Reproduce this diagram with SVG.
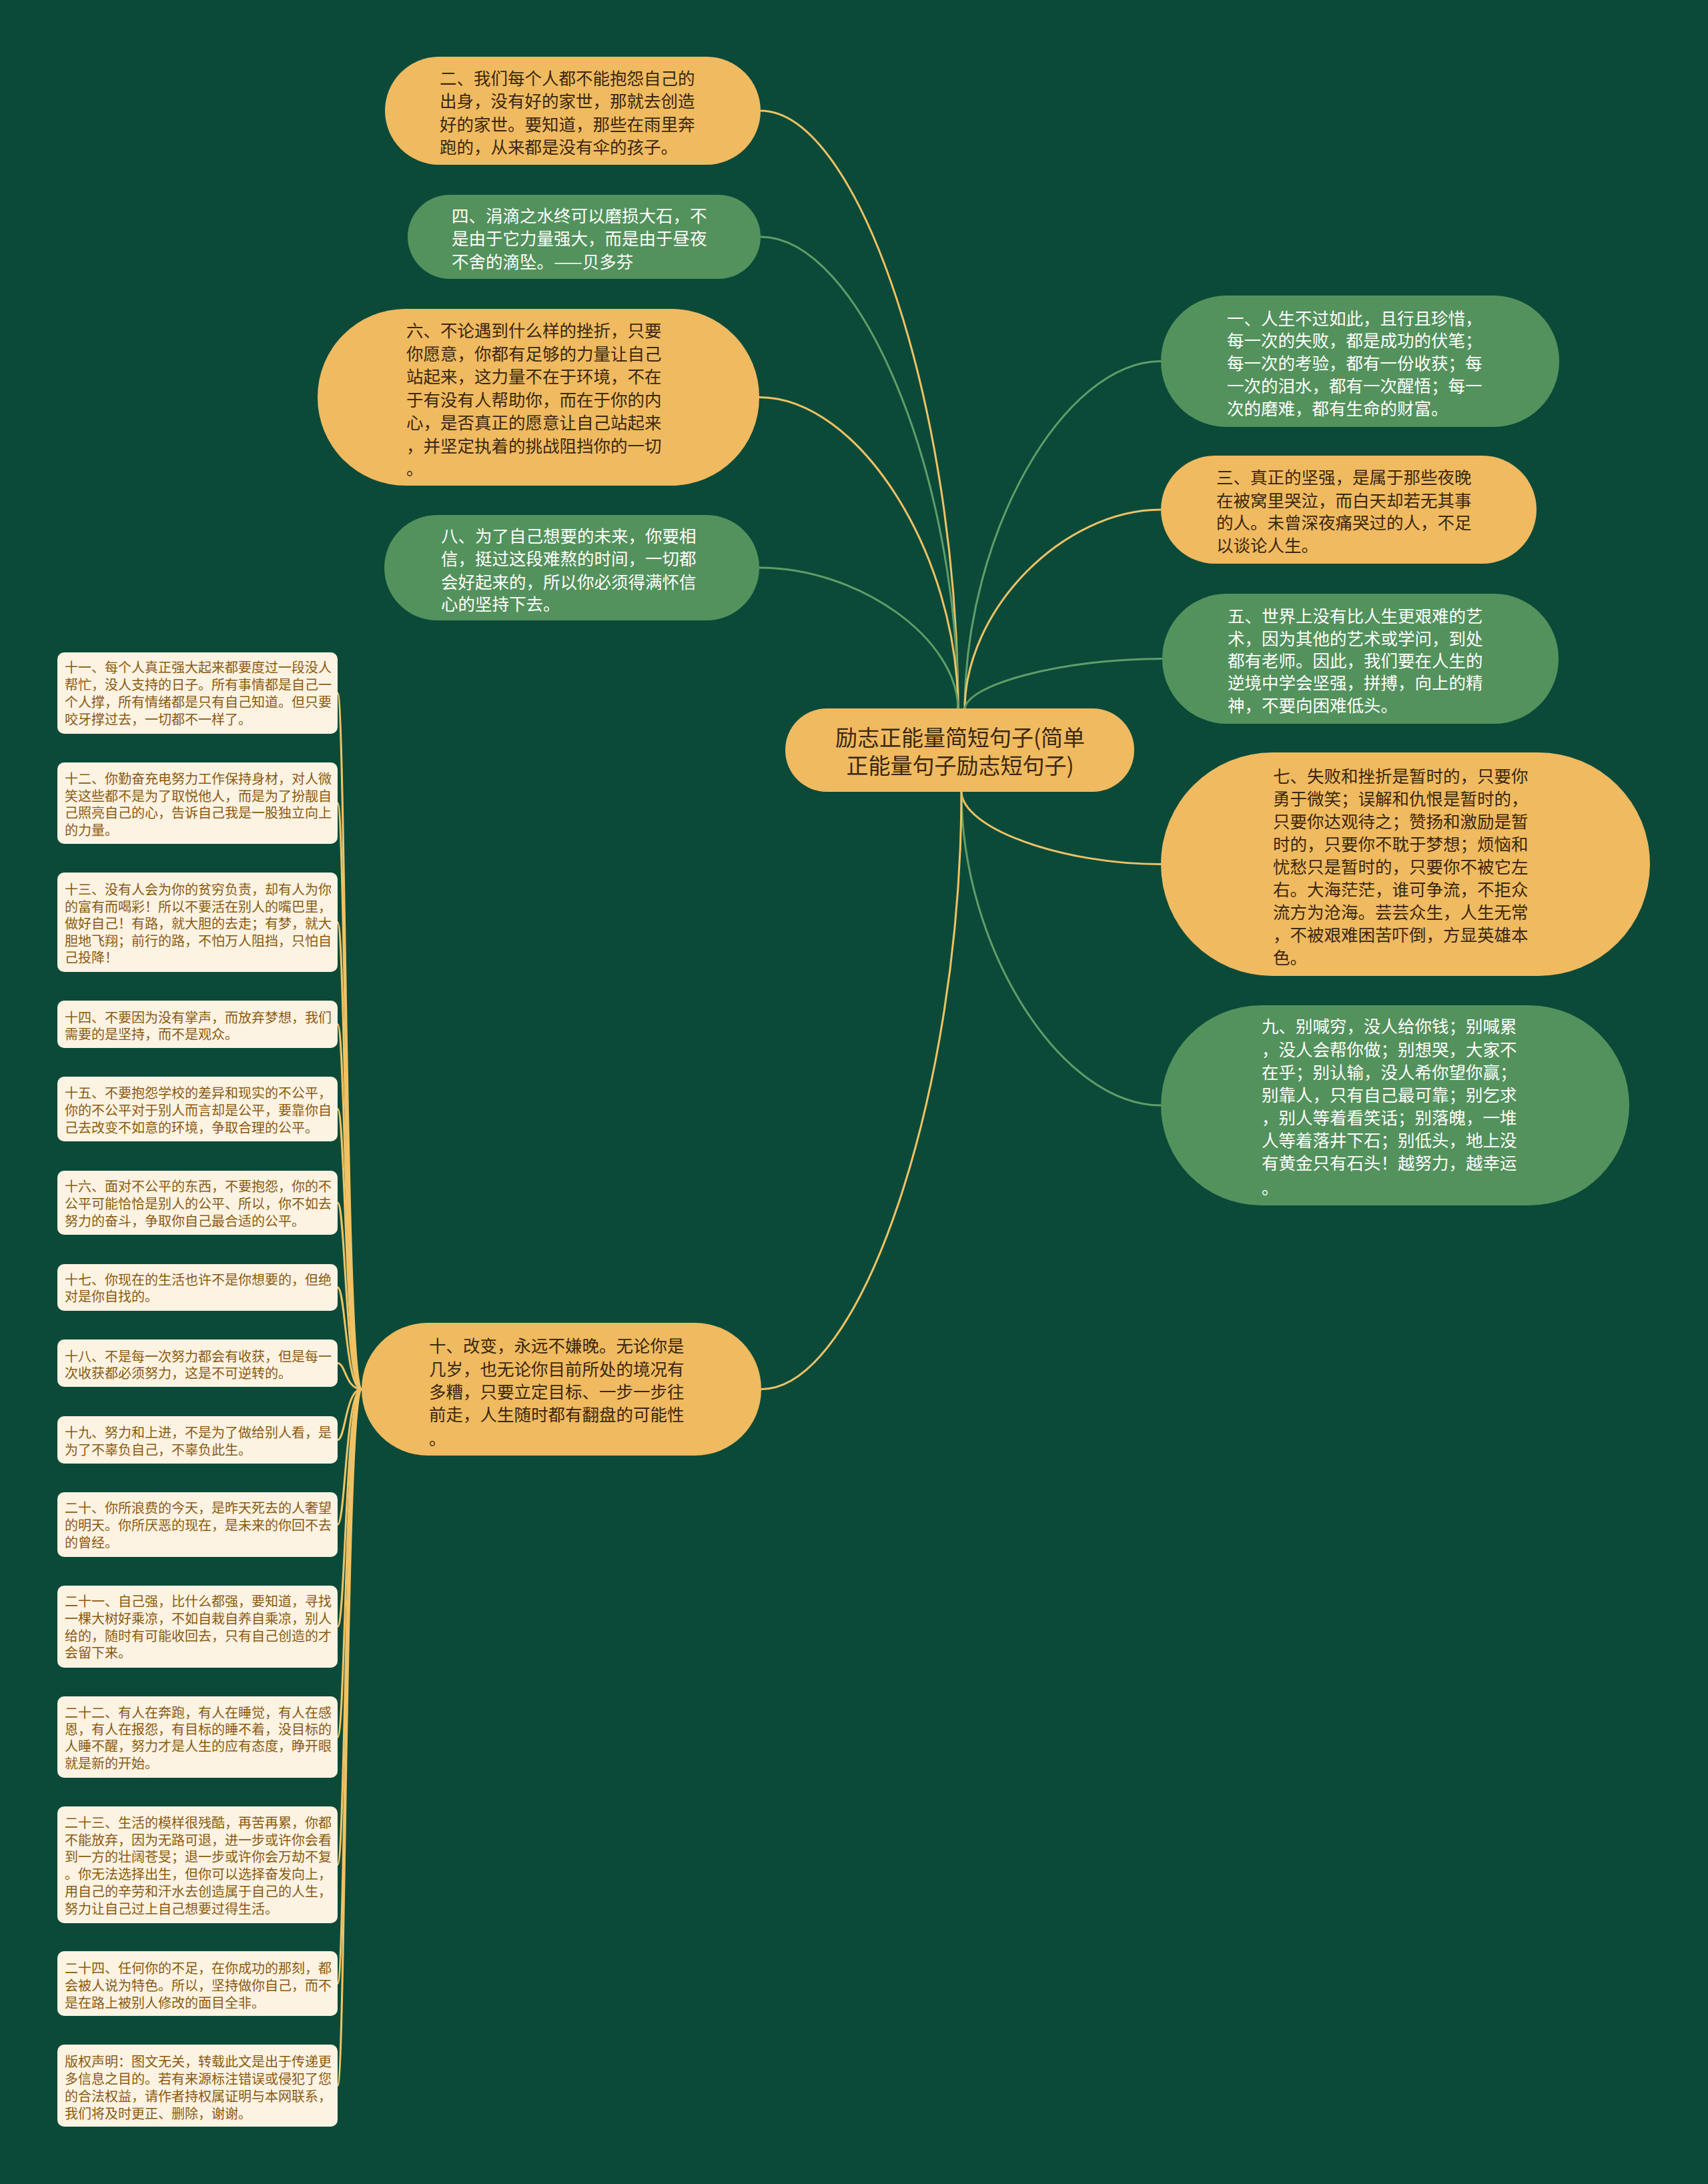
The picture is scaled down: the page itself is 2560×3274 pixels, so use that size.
<svg xmlns="http://www.w3.org/2000/svg" width="2560" height="3274" viewBox="0 0 2560 3274">
<style>
.bg{fill:#0b4a39}
.org{fill:#f0ba60}
.grn{fill:#53925c}
.leaf{fill:#fdf3e3}
.c-o{fill:none;stroke:#f0c264;stroke-width:3}
.c-g{fill:none;stroke:#5e9e68;stroke-width:3}
text{font-family:"Noto Sans CJK SC","Noto Sans",sans-serif}
.td{font-size:25.5px;fill:#3a2810}
.tl{font-size:25.5px;fill:#ffffff}
.tc{font-size:33px;fill:#3a2810;text-anchor:middle}
.tf{font-size:20px;fill:#8a5a10}
</style>
<rect class="bg" x="0" y="0" width="2560" height="3274"/>
<g id="connectors">
<path class="c-o" d="M1436 1064 C1436 615 1288 166 1140 166"/>
<path class="c-g" d="M1436 1064 C1436 709 1288 355 1140 355"/>
<path class="c-o" d="M1436 1064 C1436 830 1287 595.5 1138 595.5"/>
<path class="c-g" d="M1436 1064 C1436 957 1287 851 1138 851"/>
<path class="c-g" d="M1446 1064 C1446 803 1593 541.5 1740 541.5"/>
<path class="c-o" d="M1446 1064 C1446 914 1593 764 1740 764"/>
<path class="c-g" d="M1446 1064 C1446 1026 1594 987.5 1742 987.5"/>
<path class="c-o" d="M1441 1186 C1441 1241 1590 1295.5 1740 1295.5"/>
<path class="c-g" d="M1441 1186 C1441 1421 1590 1657 1740 1657"/>
<path class="c-o" d="M1441 1186 C1441 1634 1291 2082.5 1141 2082.5"/>
<path class="c-o" d="M542 2082.5 C518 2082.5 518 1039 506 1039"/>
<path class="c-o" d="M542 2082.5 C518 2082.5 518 1204 506 1204"/>
<path class="c-o" d="M542 2082.5 C518 2082.5 518 1382.5 506 1382.5"/>
<path class="c-o" d="M542 2082.5 C518 2082.5 518 1535.5 506 1535.5"/>
<path class="c-o" d="M542 2082.5 C518 2082.5 518 1662.5 506 1662.5"/>
<path class="c-o" d="M542 2082.5 C518 2082.5 518 1803 506 1803"/>
<path class="c-o" d="M542 2082.5 C518 2082.5 518 1930 506 1930"/>
<path class="c-o" d="M542 2082.5 C518 2082.5 518 2043.5 506 2043.5"/>
<path class="c-o" d="M542 2082.5 C518 2082.5 518 2158.5 506 2158.5"/>
<path class="c-o" d="M542 2082.5 C518 2082.5 518 2285.5 506 2285.5"/>
<path class="c-o" d="M542 2082.5 C518 2082.5 518 2438.5 506 2438.5"/>
<path class="c-o" d="M542 2082.5 C518 2082.5 518 2604 506 2604"/>
<path class="c-o" d="M542 2082.5 C518 2082.5 518 2795.5 506 2795.5"/>
<path class="c-o" d="M542 2082.5 C518 2082.5 518 2973.5 506 2973.5"/>
<path class="c-o" d="M542 2082.5 C518 2082.5 518 3126.5 506 3126.5"/>
</g>
<g id="n-center">
<rect class="org" x="1177" y="1062" width="523" height="125" rx="62"/>
<text class="tc"><tspan x="1439" y="1118">励志正能量简短句子(简单</tspan><tspan x="1439" y="1160">正能量句子励志短句子)</tspan></text>
</g>
<g id="n2">
<rect class="org" x="577" y="85" width="563" height="162" rx="81"/>
<text class="td"><tspan x="659" y="127">二、我们每个人都不能抱怨自己的</tspan><tspan x="659" y="161">出身，没有好的家世，那就去创造</tspan><tspan x="659" y="196">好的家世。要知道，那些在雨里奔</tspan><tspan x="659" y="230">跑的，从来都是没有伞的孩子。</tspan></text>
</g>
<g id="n4">
<rect class="grn" x="611" y="292" width="529" height="126" rx="63"/>
<text class="tl"><tspan x="677" y="333">四、涓滴之水终可以磨损大石，不</tspan><tspan x="677" y="367">是由于它力量强大，而是由于昼夜</tspan><tspan x="677" y="402">不舍的滴坠。——贝多芬</tspan></text>
</g>
<g id="n6">
<rect class="org" x="476" y="463" width="662" height="265" rx="132"/>
<text class="td"><tspan x="609" y="505">六、不论遇到什么样的挫折，只要</tspan><tspan x="609" y="540">你愿意，你都有足够的力量让自己</tspan><tspan x="609" y="574">站起来，这力量不在于环境，不在</tspan><tspan x="609" y="609">于有没有人帮助你，而在于你的内</tspan><tspan x="609" y="643">心，是否真正的愿意让自己站起来</tspan><tspan x="609" y="678">，并坚定执着的挑战阻挡你的一切</tspan><tspan x="609" y="712">。</tspan></text>
</g>
<g id="n8">
<rect class="grn" x="576" y="772" width="562" height="158" rx="79"/>
<text class="tl"><tspan x="661" y="813">八、为了自己想要的未来，你要相</tspan><tspan x="661" y="847">信，挺过这段难熬的时间，一切都</tspan><tspan x="661" y="882">会好起来的，所以你必须得满怀信</tspan><tspan x="661" y="915">心的坚持下去。</tspan></text>
</g>
<g id="n1">
<rect class="grn" x="1740" y="443" width="597" height="197" rx="98"/>
<text class="tl"><tspan x="1839" y="487">一、人生不过如此，且行且珍惜，</tspan><tspan x="1839" y="520">每一次的失败，都是成功的伏笔；</tspan><tspan x="1839" y="554">每一次的考验，都有一份收获；每</tspan><tspan x="1839" y="588">一次的泪水，都有一次醒悟；每一</tspan><tspan x="1839" y="622">次的磨难，都有生命的财富。</tspan></text>
</g>
<g id="n3">
<rect class="org" x="1740" y="683" width="563" height="162" rx="81"/>
<text class="td"><tspan x="1823" y="725">三、真正的坚强，是属于那些夜晚</tspan><tspan x="1823" y="760">在被窝里哭泣，而白天却若无其事</tspan><tspan x="1823" y="793">的人。未曾深夜痛哭过的人，不足</tspan><tspan x="1823" y="827">以谈论人生。</tspan></text>
</g>
<g id="n5">
<rect class="grn" x="1742" y="890" width="594" height="195" rx="97"/>
<text class="tl"><tspan x="1840" y="933">五、世界上没有比人生更艰难的艺</tspan><tspan x="1840" y="967">术，因为其他的艺术或学问，到处</tspan><tspan x="1840" y="1000">都有老师。因此，我们要在人生的</tspan><tspan x="1840" y="1033">逆境中学会坚强，拼搏，向上的精</tspan><tspan x="1840" y="1067">神，不要向困难低头。</tspan></text>
</g>
<g id="n7">
<rect class="org" x="1740" y="1128" width="733" height="335" rx="167"/>
<text class="td"><tspan x="1908" y="1173">七、失败和挫折是暂时的，只要你</tspan><tspan x="1908" y="1207">勇于微笑；误解和仇恨是暂时的，</tspan><tspan x="1908" y="1241">只要你达观待之；赞扬和激励是暂</tspan><tspan x="1908" y="1275">时的，只要你不耽于梦想；烦恼和</tspan><tspan x="1908" y="1309">忧愁只是暂时的，只要你不被它左</tspan><tspan x="1908" y="1343">右。大海茫茫，谁可争流，不拒众</tspan><tspan x="1908" y="1377">流方为沧海。芸芸众生，人生无常</tspan><tspan x="1908" y="1411">，不被艰难困苦吓倒，方显英雄本</tspan><tspan x="1908" y="1445">色。</tspan></text>
</g>
<g id="n9">
<rect class="grn" x="1740" y="1507" width="702" height="300" rx="150"/>
<text class="tl"><tspan x="1891" y="1548">九、别喊穷，没人给你钱；别喊累</tspan><tspan x="1891" y="1583">，没人会帮你做；别想哭，大家不</tspan><tspan x="1891" y="1617">在乎；别认输，没人希你望你赢；</tspan><tspan x="1891" y="1651">别靠人，只有自己最可靠；别乞求</tspan><tspan x="1891" y="1685">，别人等着看笑话；别落魄，一堆</tspan><tspan x="1891" y="1719">人等着落井下石；别低头，地上没</tspan><tspan x="1891" y="1753">有黄金只有石头！越努力，越幸运</tspan><tspan x="1891" y="1790">。</tspan></text>
</g>
<g id="n10">
<rect class="org" x="542" y="1983" width="599" height="199" rx="99"/>
<text class="td"><tspan x="643" y="2027">十、改变，永远不嫌晚。无论你是</tspan><tspan x="643" y="2062">几岁，也无论你目前所处的境况有</tspan><tspan x="643" y="2096">多糟，只要立定目标、一步一步往</tspan><tspan x="643" y="2130">前走，人生随时都有翻盘的可能性</tspan><tspan x="643" y="2166">。</tspan></text>
</g>
<g id="n11">
<rect class="leaf" x="86" y="978" width="420" height="122" rx="10"/>
<text class="tf"><tspan x="97" y="1008">十一、每个人真正强大起来都要度过一段没人</tspan><tspan x="97" y="1034">帮忙，没人支持的日子。所有事情都是自己一</tspan><tspan x="97" y="1060">个人撑，所有情绪都是只有自己知道。但只要</tspan><tspan x="97" y="1086">咬牙撑过去，一切都不一样了。</tspan></text>
</g>
<g id="n12">
<rect class="leaf" x="86" y="1143" width="420" height="122" rx="10"/>
<text class="tf"><tspan x="97" y="1175">十二、你勤奋充电努力工作保持身材，对人微</tspan><tspan x="97" y="1201">笑这些都不是为了取悦他人，而是为了扮靓自</tspan><tspan x="97" y="1226">己照亮自己的心，告诉自己我是一股独立向上</tspan><tspan x="97" y="1252">的力量。</tspan></text>
</g>
<g id="n13">
<rect class="leaf" x="86" y="1308" width="420" height="149" rx="10"/>
<text class="tf"><tspan x="97" y="1341">十三、没有人会为你的贫穷负责，却有人为你</tspan><tspan x="97" y="1367">的富有而喝彩！所以不要活在别人的嘴巴里，</tspan><tspan x="97" y="1392">做好自己！有路，就大胆的去走；有梦，就大</tspan><tspan x="97" y="1418">胆地飞翔；前行的路，不怕万人阻挡，只怕自</tspan><tspan x="97" y="1443">己投降！</tspan></text>
</g>
<g id="n14">
<rect class="leaf" x="86" y="1500" width="420" height="71" rx="10"/>
<text class="tf"><tspan x="97" y="1533">十四、不要因为没有掌声，而放弃梦想，我们</tspan><tspan x="97" y="1558">需要的是坚持，而不是观众。</tspan></text>
</g>
<g id="n15">
<rect class="leaf" x="86" y="1614" width="420" height="97" rx="10"/>
<text class="tf"><tspan x="97" y="1646">十五、不要抱怨学校的差异和现实的不公平，</tspan><tspan x="97" y="1672">你的不公平对于别人而言却是公平，要靠你自</tspan><tspan x="97" y="1698">己去改变不如意的环境，争取合理的公平。</tspan></text>
</g>
<g id="n16">
<rect class="leaf" x="86" y="1755" width="420" height="96" rx="10"/>
<text class="tf"><tspan x="97" y="1786">十六、面对不公平的东西，不要抱怨，你的不</tspan><tspan x="97" y="1812">公平可能恰恰是别人的公平、所以，你不如去</tspan><tspan x="97" y="1838">努力的奋斗，争取你自己最合适的公平。</tspan></text>
</g>
<g id="n17">
<rect class="leaf" x="86" y="1895" width="420" height="70" rx="10"/>
<text class="tf"><tspan x="97" y="1926">十七、你现在的生活也许不是你想要的，但绝</tspan><tspan x="97" y="1951">对是你自找的。</tspan></text>
</g>
<g id="n18">
<rect class="leaf" x="86" y="2008" width="420" height="71" rx="10"/>
<text class="tf"><tspan x="97" y="2041">十八、不是每一次努力都会有收获，但是每一</tspan><tspan x="97" y="2066">次收获都必须努力，这是不可逆转的。</tspan></text>
</g>
<g id="n19">
<rect class="leaf" x="86" y="2123" width="420" height="71" rx="10"/>
<text class="tf"><tspan x="97" y="2155">十九、努力和上进，不是为了做给别人看，是</tspan><tspan x="97" y="2181">为了不辜负自己，不辜负此生。</tspan></text>
</g>
<g id="n20">
<rect class="leaf" x="86" y="2237" width="420" height="97" rx="10"/>
<text class="tf"><tspan x="97" y="2268">二十、你所浪费的今天，是昨天死去的人奢望</tspan><tspan x="97" y="2294">的明天。你所厌恶的现在，是未来的你回不去</tspan><tspan x="97" y="2320">的曾经。</tspan></text>
</g>
<g id="n21">
<rect class="leaf" x="86" y="2377" width="420" height="123" rx="10"/>
<text class="tf"><tspan x="97" y="2408">二十一、自己强，比什么都强，要知道，寻找</tspan><tspan x="97" y="2434">一棵大树好乘凉，不如自栽自养自乘凉，别人</tspan><tspan x="97" y="2460">给的，随时有可能收回去，只有自己创造的才</tspan><tspan x="97" y="2485">会留下来。</tspan></text>
</g>
<g id="n22">
<rect class="leaf" x="86" y="2543" width="420" height="122" rx="10"/>
<text class="tf"><tspan x="97" y="2575">二十二、有人在奔跑，有人在睡觉，有人在感</tspan><tspan x="97" y="2600">恩，有人在报怨，有目标的睡不着，没目标的</tspan><tspan x="97" y="2625">人睡不醒，努力才是人生的应有态度，睁开眼</tspan><tspan x="97" y="2651">就是新的开始。</tspan></text>
</g>
<g id="n23">
<rect class="leaf" x="86" y="2708" width="420" height="175" rx="10"/>
<text class="tf"><tspan x="97" y="2740">二十三、生活的模样很残酷，再苦再累，你都</tspan><tspan x="97" y="2766">不能放弃，因为无路可退，进一步或许你会看</tspan><tspan x="97" y="2791">到一方的壮阔苍旻；退一步或许你会万劫不复</tspan><tspan x="97" y="2817">。你无法选择出生，但你可以选择奋发向上，</tspan><tspan x="97" y="2843">用自己的辛劳和汗水去创造属于自己的人生，</tspan><tspan x="97" y="2869">努力让自己过上自己想要过得生活。</tspan></text>
</g>
<g id="n24">
<rect class="leaf" x="86" y="2925" width="420" height="97" rx="10"/>
<text class="tf"><tspan x="97" y="2958">二十四、任何你的不足，在你成功的那刻，都</tspan><tspan x="97" y="2984">会被人说为特色。所以，坚持做你自己，而不</tspan><tspan x="97" y="3010">是在路上被别人修改的面目全非。</tspan></text>
</g>
<g id="n-copyright">
<rect class="leaf" x="86" y="3065" width="420" height="123" rx="10"/>
<text class="tf"><tspan x="97" y="3098">版权声明：图文无关，转载此文是出于传递更</tspan><tspan x="97" y="3124">多信息之目的。若有来源标注错误或侵犯了您</tspan><tspan x="97" y="3150">的合法权益，请作者持权属证明与本网联系，</tspan><tspan x="97" y="3176">我们将及时更正、删除，谢谢。</tspan></text>
</g>
</svg>
